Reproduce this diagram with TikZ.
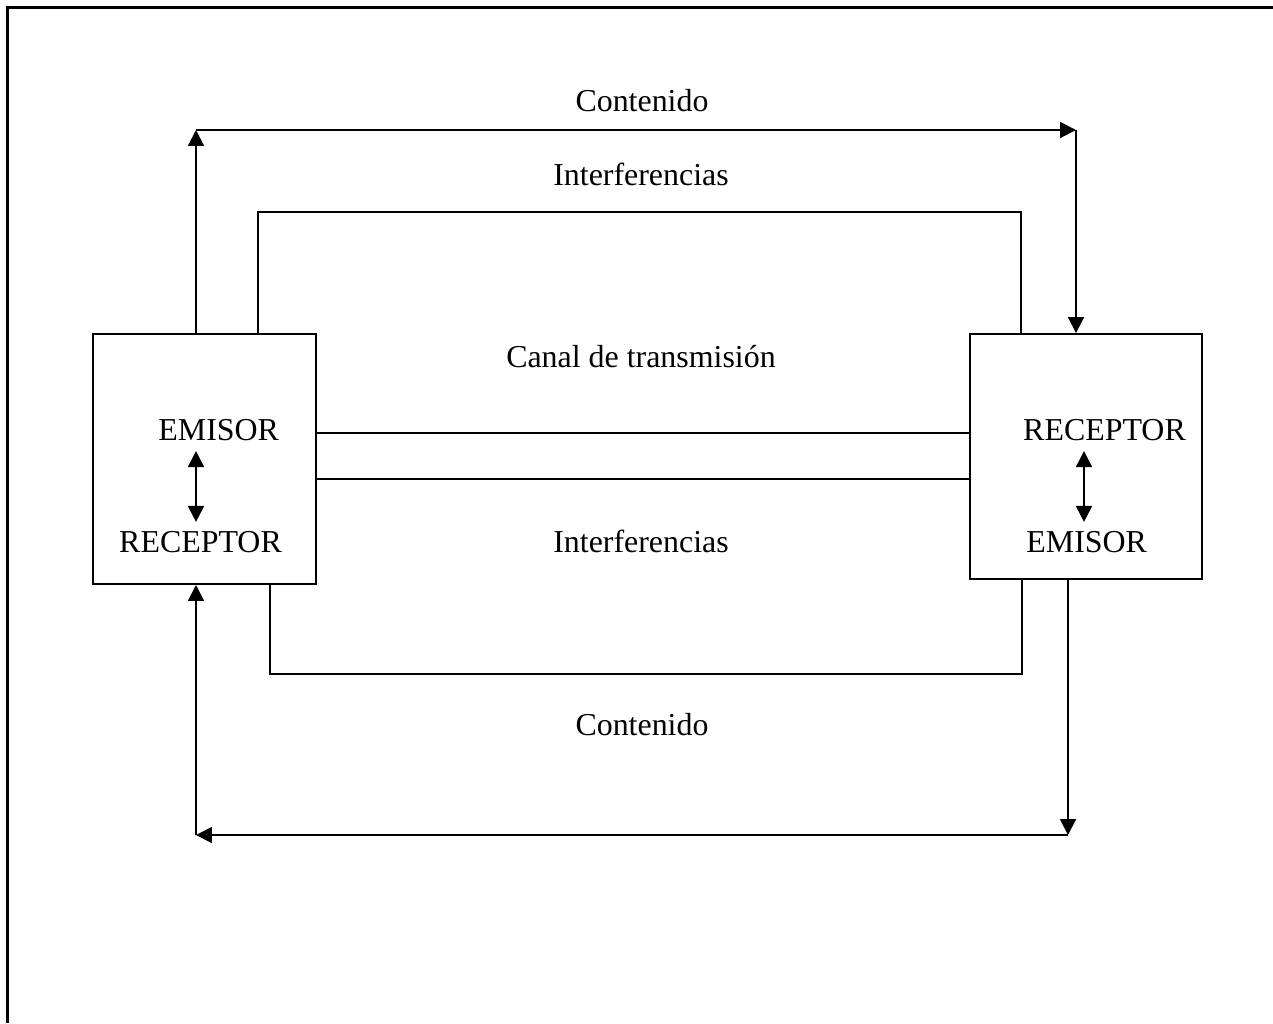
\documentclass[tikz,border=0pt]{standalone}
\usepackage{fontspec}
\setmainfont{Liberation Serif}
\usetikzlibrary{arrows.meta}

\begin{document}
\begin{tikzpicture}[x=0.376pt,y=-0.376pt,line width=0.75pt,
  font=\fontsize{12}{14}\selectfont,
  flecha/.style={-{Triangle[length=6pt,width=6pt]}},
  dobleflecha/.style={{Triangle[length=6pt,width=6pt]}-{Triangle[length=6pt,width=6pt]}}]
\useasboundingbox (0,0) rectangle (1273,1023);
\draw [line width=1pt] (7.5,1023) -- (7.5,7.5) -- (1273,7.5);

\node [draw,minimum width=83.8pt,minimum height=94pt] (izq) at (204.5,459) {};
\node [draw,minimum width=87.2pt,minimum height=92.1pt] (der) at (1086,456.5) {};

\node (ie) at (218.7,430.5) {EMISOR};
\node (ir) at (200.5,542.5) {RECEPTOR};
\node (dr) at (1104.5,430.5) {RECEPTOR};
\node (de) at (1086.7,542.5) {EMISOR};

\node (cont1) at (642,101) {Contenido};
\node (inter1) at (641,174) {Interferencias};
\node (canal) at (641,357) {Canal de transmisión};
\node (inter2) at (641,541) {Interferencias};
\node (cont2) at (642,725) {Contenido};

\coordinate (c1) at (196,130);
\coordinate (c2) at (1076,130);
\coordinate (c3) at (1068,835);
\coordinate (c4) at (196,835);
\coordinate (i1) at (258,212);
\coordinate (i2) at (1021,212);
\coordinate (i3) at (270,674);
\coordinate (i4) at (1022,674);
\coordinate (k1) at (640,433);
\coordinate (k2) at (640,479);
\coordinate (eje) at (1084,488);

\draw [flecha] (izq.north -| c1) -- (c1);
\draw [flecha] (c1) -- (c2);
\draw [flecha] (c2) -- (der.north -| c2);
\draw (izq.north -| i1) -- (i1) -- (i2) -- (der.north -| i2);

\draw (izq.east |- k1) -- (der.west |- k1);
\draw (izq.east |- k2) -- (der.west |- k2);

\draw (izq.south -| i3) -- (i3) -- (i4) -- (der.south -| i4);
\draw [flecha] (der.south -| c3) -- (c3);
\draw [flecha] (c3) -- (c4);
\draw [flecha] (c4) -- (izq.south -| c4);

\draw [dobleflecha] (ie.south -| c1) -- (ir.north -| c1);
\draw [dobleflecha] (dr.south -| eje) -- (de.north -| eje);
\end{tikzpicture}
\end{document}
